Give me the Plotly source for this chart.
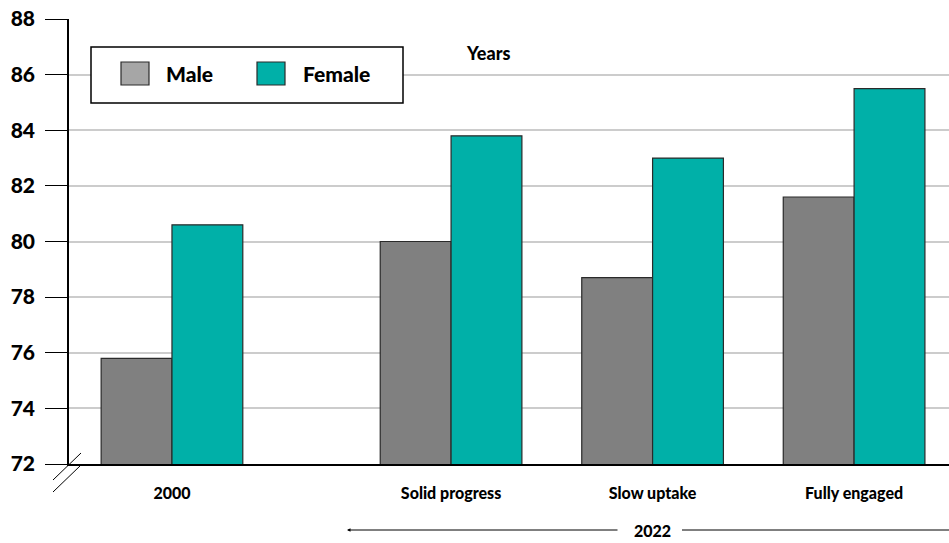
import plotly.graph_objects as go

categories = ["2000", "Solid progress", "Slow uptake", "Fully engaged"]
positions = [0, 1.385, 2.385, 3.385]
male = [75.8, 80.0, 78.7, 81.6]
female = [80.6, 83.8, 83.0, 85.5]
y_ticks = [72, 74, 76, 78, 80, 82, 84, 86, 88]

W, H = 949, 543
ML, MR, MT, MB = 69, 0, 19, 79
PW, PH = W - ML - MR, H - MT - MB

def px(x):
    return (x - ML) / PW

def py(y):
    return (H - MB - y) / PH

FONT = "Lato"
WT = 900
MALE_C = "#808080"
MALE_LEG = "#a6a6a6"
FEM_C = "#00b0a8"
EDGE = "#2a2a2a"

fig = go.Figure()
fig.add_trace(go.Bar(x=positions, y=male, name="Male", marker=dict(color=MALE_C, line=dict(color=EDGE, width=1.2)),
                     showlegend=False))
fig.add_trace(go.Bar(x=positions, y=female, name="Female", marker=dict(color=FEM_C, line=dict(color=EDGE, width=1.2)),
                     showlegend=False))

shapes = []
annotations = []

# legend box
shapes.append(dict(type="rect", xref="paper", yref="paper", x0=px(91), x1=px(403), y0=py(103), y1=py(47),
                   line=dict(color="black", width=1.5), fillcolor="white", layer="above"))
for x0, col, label, tx in [(121, MALE_LEG, "Male", 164), (257, FEM_C, "Female", 301)]:
    shapes.append(dict(type="rect", xref="paper", yref="paper", x0=px(x0), x1=px(x0 + 28), y0=py(85), y1=py(62),
                       line=dict(color=EDGE, width=1.2), fillcolor=col, layer="above"))
    annotations.append(dict(text=label, xref="paper", yref="paper", x=px(tx), y=py(74),
                            xanchor="left", yanchor="middle", showarrow=False,
                            font=dict(family=FONT, size=21, color="black", weight=WT)))

annotations.append(dict(text="Years", xref="paper", yref="paper", x=px(488), y=py(53),
                        xanchor="center", yanchor="middle", showarrow=False,
                        font=dict(family=FONT, size=18, color="black", weight=WT)))

# 2022 bracket
annotations.append(dict(text="2022", xref="paper", yref="paper", x=px(652), y=py(530),
                        xanchor="center", yanchor="middle", showarrow=False,
                        font=dict(family=FONT, size=16, color="black", weight=WT)))
annotations.append(dict(text="", xref="paper", yref="paper", x=px(347), y=py(530),
                        axref="pixel", ayref="pixel", ax=272, ay=0, showarrow=True,
                        arrowhead=2, arrowsize=0.7, arrowwidth=1, arrowcolor="black"))
shapes.append(dict(type="line", xref="paper", yref="paper", x0=px(682), x1=px(949), y0=py(530), y1=py(530),
                   line=dict(color="black", width=1)))

# axis break marks
for dy in (0, 12):
    shapes.append(dict(type="line", xref="paper", yref="paper", x0=px(53), x1=px(81), y0=py(480 + dy), y1=py(453 + dy),
                       line=dict(color="black", width=1)))

fig.update_layout(
    width=W, height=H,
    margin=dict(l=ML, r=MR, t=MT, b=MB),
    paper_bgcolor="white", plot_bgcolor="white",
    barmode="group", bargap=0.297, bargroupgap=0,
    shapes=shapes, annotations=annotations,
    xaxis=dict(range=[-0.511, 3.856], tickvals=positions, ticktext=categories,
               tickfont=dict(family=FONT, size=16, color="black", weight=WT), ticks="", showgrid=False,
               showline=True, linecolor="black", linewidth=1.5, ticklabelstandoff=14, zeroline=False),
    yaxis=dict(range=[72, 88], tickvals=y_ticks, ticktext=[str(v) for v in y_ticks],
               tickfont=dict(family=FONT, size=21, color="black", weight=WT), ticks="outside", ticklen=22,
               tickcolor="black", tickwidth=1.2, showline=True, linecolor="black", linewidth=1.5,
               showgrid=True, gridcolor="#cccccc", gridwidth=1.5, zeroline=False, ticklabelstandoff=6),
)

fig.write_html("out.html")
